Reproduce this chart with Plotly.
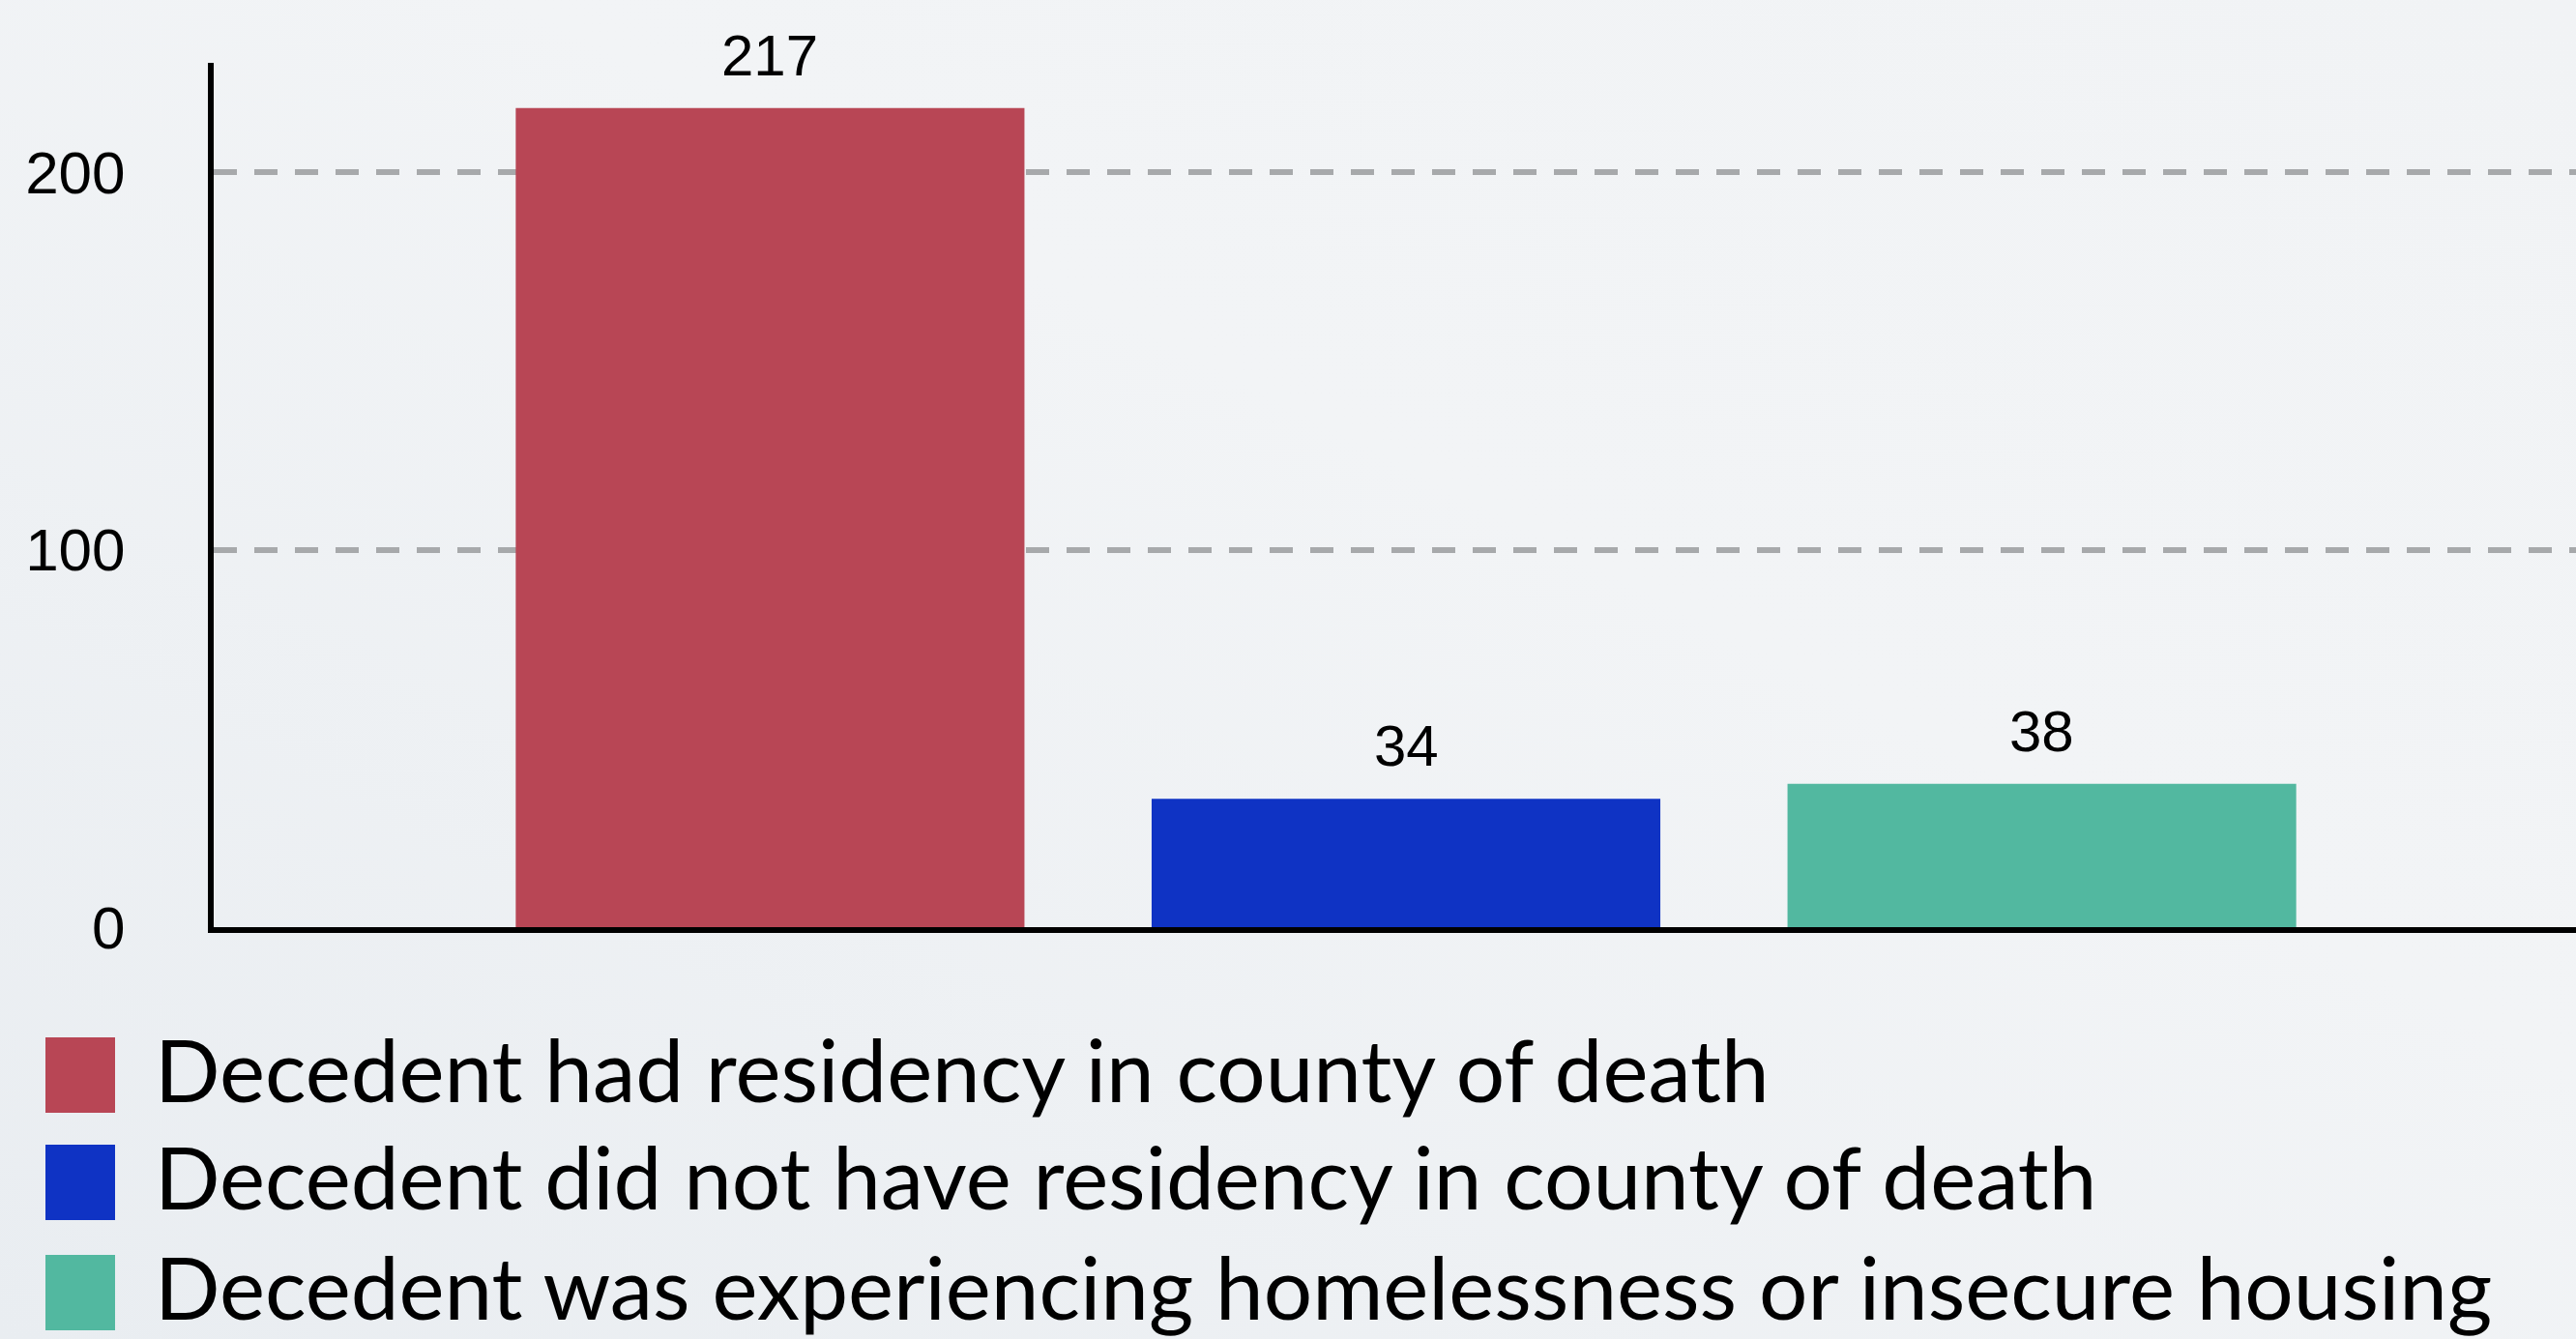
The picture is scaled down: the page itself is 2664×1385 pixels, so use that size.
import base64
import plotly.graph_objects as go

# ---- data ----
categories = [
    "Decedent had residency in county of death",
    "Decedent did not have residency in county of death",
    "Decedent was experiencing homelessness or insecure housing",
]
values = [217, 34, 38]
colors = ["#b84655", "#0f33c4", "#52b8a0"]
y_tickvals = [0, 100, 200]
y_ticktext = ["0", "100", "200"]

# ---- geometry (pixels) ----
W, H = 2664, 1385
L, R, T, B = 221, 0, 65, 426
PW, PH = W - L - R, H - T - B


def px_x(px):
    return (px - L) / PW


def px_y(py):
    return (H - B - py) / PH


fig = go.Figure()
fig.add_trace(go.Bar(
    x=categories,
    y=values,
    marker=dict(color=colors, line=dict(width=0)),
    width=0.8,
    showlegend=False,
    hoverinfo="skip",
))

annotations = []
for c, v in zip(categories, values):
    annotations.append(dict(
        x=c, y=v, xref="x", yref="y", text=str(v), showarrow=False,
        yanchor="bottom", xanchor="center", yshift=19,
        font=dict(family="Liberation Sans, Arial, sans-serif", size=60, color="#000000"),
    ))

# custom legend (large swatches)
legend_rows_y = [1112, 1223, 1337]
shapes = []
for i, (c, col) in enumerate(zip(categories, colors)):
    cy = legend_rows_y[i]
    shapes.append(dict(
        type="rect", xref="paper", yref="paper",
        x0=px_x(47), x1=px_x(119), y0=px_y(cy + 39), y1=px_y(cy - 39),
        fillcolor=col, line=dict(width=0), layer="above",
    ))
    annotations.append(dict(
        x=px_x(158), y=px_y(cy - 7), xref="paper", yref="paper",
        text=c, showarrow=False, xanchor="left", yanchor="middle",
        font=dict(family="Lato, sans-serif", size=89, color="#000000"),
    ))

svg = (
    '<svg xmlns="http://www.w3.org/2000/svg" width="2664" height="1385">'
    '<defs><linearGradient id="g" x1="0" y1="1" x2="1" y2="0">'
    '<stop offset="0" stop-color="#e9edf1"/>'
    '<stop offset="0.6" stop-color="#f2f4f6"/>'
    '<stop offset="1" stop-color="#f1f3f5"/>'
    '</linearGradient></defs>'
    '<rect width="2664" height="1385" fill="url(#g)"/></svg>'
)
bg_src = "data:image/svg+xml;base64," + base64.b64encode(svg.encode()).decode()

fig.update_layout(
    width=W, height=H,
    margin=dict(l=L, r=R, t=T, b=B, autoexpand=False),
    paper_bgcolor="#eff2f5",
    plot_bgcolor="rgba(0,0,0,0)",
    showlegend=False,
    annotations=annotations,
    shapes=shapes,
    images=[dict(
        source=bg_src, xref="paper", yref="paper",
        x=-L / PW, y=1 + T / PH, sizex=W / PW, sizey=H / PH,
        xanchor="left", yanchor="top", sizing="stretch", layer="below",
    )],
    xaxis=dict(
        range=[-0.875, 2.84],
        showticklabels=False, ticks="", showgrid=False, zeroline=False,
        showline=True, linecolor="#000000", linewidth=6,
    ),
    yaxis=dict(
        range=[0, 229],
        tickvals=y_tickvals, ticktext=y_ticktext,
        ticks="", ticklabelstandoff=73,
        tickfont=dict(family="Liberation Sans, Arial, sans-serif", size=62, color="#000000"),
        showgrid=True, gridcolor="#a7a9ab", gridwidth=6, griddash="24px,18px",
        zeroline=False,
        showline=True, linecolor="#000000", linewidth=6,
    ),
)

fig.write_html(
    "out.html",
    config={"displayModeBar": False, "staticPlot": True},
    post_script="document.body.style.margin='0';document.body.style.overflow='hidden';"
                "document.body.style.background='#eff2f5';",
)
